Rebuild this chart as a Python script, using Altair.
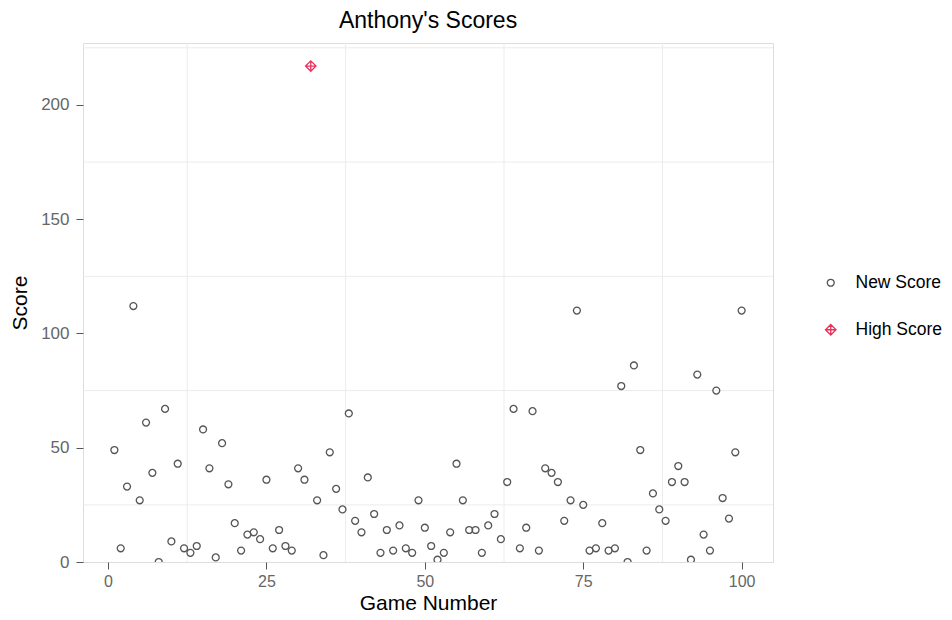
import altair as alt
import pandas as pd

games = list(range(1, 101))
scores = [49, 6, 33, 112, 27, 61, 39, 0, 67, 9,
          43, 6, 4, 7, 58, 41, 2, 52, 34, 17,
          5, 12, 13, 10, 36, 6, 14, 7, 5, 41,
          36, 217, 27, 3, 48, 32, 23, 65, 18, 13,
          37, 21, 4, 14, 5, 16, 6, 4, 27, 15,
          7, 1, 4, 13, 43, 27, 14, 14, 4, 16,
          21, 10, 35, 67, 6, 15, 66, 5, 41, 39,
          35, 18, 27, 110, 25, 5, 6, 17, 5, 6,
          77, 0, 86, 49, 5, 30, 23, 18, 35, 42,
          35, 1, 82, 12, 5, 75, 28, 19, 48, 110]
high_score_games = [32]
categories = ["New Score", "High Score"]

x_ticks = [0, 25, 50, 75, 100]
y_ticks = [0, 50, 100, 150, 200]
x_minor = [12.5, 37.5, 62.5, 87.5]
y_minor = [25, 75, 125, 175, 225]

df = pd.DataFrame({
    "game": games,
    "score": scores,
    "type": ["High Score" if g in high_score_games else "New Score" for g in games],
})

FONT = "Liberation Sans"
xdom = [-3.95, 104.95]
ydom = [0, 227.1]
xscale = alt.Scale(domain=xdom, nice=False, zero=False)
yscale = alt.Scale(domain=ydom, nice=False, zero=False)

xaxis = alt.Axis(values=x_ticks, grid=False, domain=False, ticks=True,
                 tickSize=7, tickColor="#555555", tickWidth=1,
                 labelFontSize=16, labelColor="#666666", labelFont=FONT,
                 labelPadding=4, titleFont=FONT, titleFontSize=21,
                 titleFontWeight="normal", titleColor="black", titlePadding=3)
yaxis = alt.Axis(values=y_ticks, grid=False, domain=False, ticks=True,
                 tickSize=7, tickColor="#555555", tickWidth=1,
                 labelFontSize=17, labelColor="#666666", labelFont=FONT,
                 labelPadding=7, titleFont=FONT, titleFontSize=21,
                 titleFontWeight="normal", titleColor="black", titlePadding=10)

diamond_plus = "M0,-1L1,0L0,1L-1,0Z M0,-1L0,1 M-1,0L1,0"

vgrid = alt.Chart(pd.DataFrame({"v": x_minor})).mark_rule(
    color="#ececec", strokeWidth=1
).encode(x=alt.X("v:Q", scale=xscale, title="Game Number", axis=xaxis))

hgrid = alt.Chart(pd.DataFrame({"v": y_minor})).mark_rule(
    color="#ececec", strokeWidth=1
).encode(y=alt.Y("v:Q", scale=yscale, title="Score", axis=yaxis))

leg = alt.Legend(title=None, orient="none", legendX=739, legendY=231,
                 labelFont=FONT, labelFontSize=17.5, labelColor="black",
                 labelOffset=16, rowPadding=28, padding=0,
                 symbolStrokeWidth=1.3)

points = alt.Chart(df).mark_point(filled=False, strokeWidth=1.3, clip=True, opacity=1).encode(
    x=alt.X("game:Q", scale=xscale, title="Game Number", axis=xaxis),
    y=alt.Y("score:Q", scale=yscale, title="Score", axis=yaxis),
    color=alt.Color("type:N", scale=alt.Scale(domain=categories, range=["#555555", "#e8315b"]),
                    legend=leg),
    shape=alt.Shape("type:N", scale=alt.Scale(domain=categories, range=["circle", diamond_plus]),
                    legend=leg),
    size=alt.Size("type:N", scale=alt.Scale(domain=categories, range=[48, 110]),
                  legend=leg),
)

chart = alt.layer(vgrid, hgrid, points).properties(
    width=690, height=519,
    title=alt.TitleParams("Anthony's Scores", font=FONT, fontSize=23, fontWeight="normal",
                          color="black", anchor="middle", offset=10),
    autosize=alt.AutoSizeParams(type="none"),
    padding={"left": 75, "top": 35, "right": 171, "bottom": 50},
).configure_view(strokeWidth=0, stroke="transparent").configure(background="white")

chart.save("out.html", embed_options={"renderer": "svg", "actions": False})
